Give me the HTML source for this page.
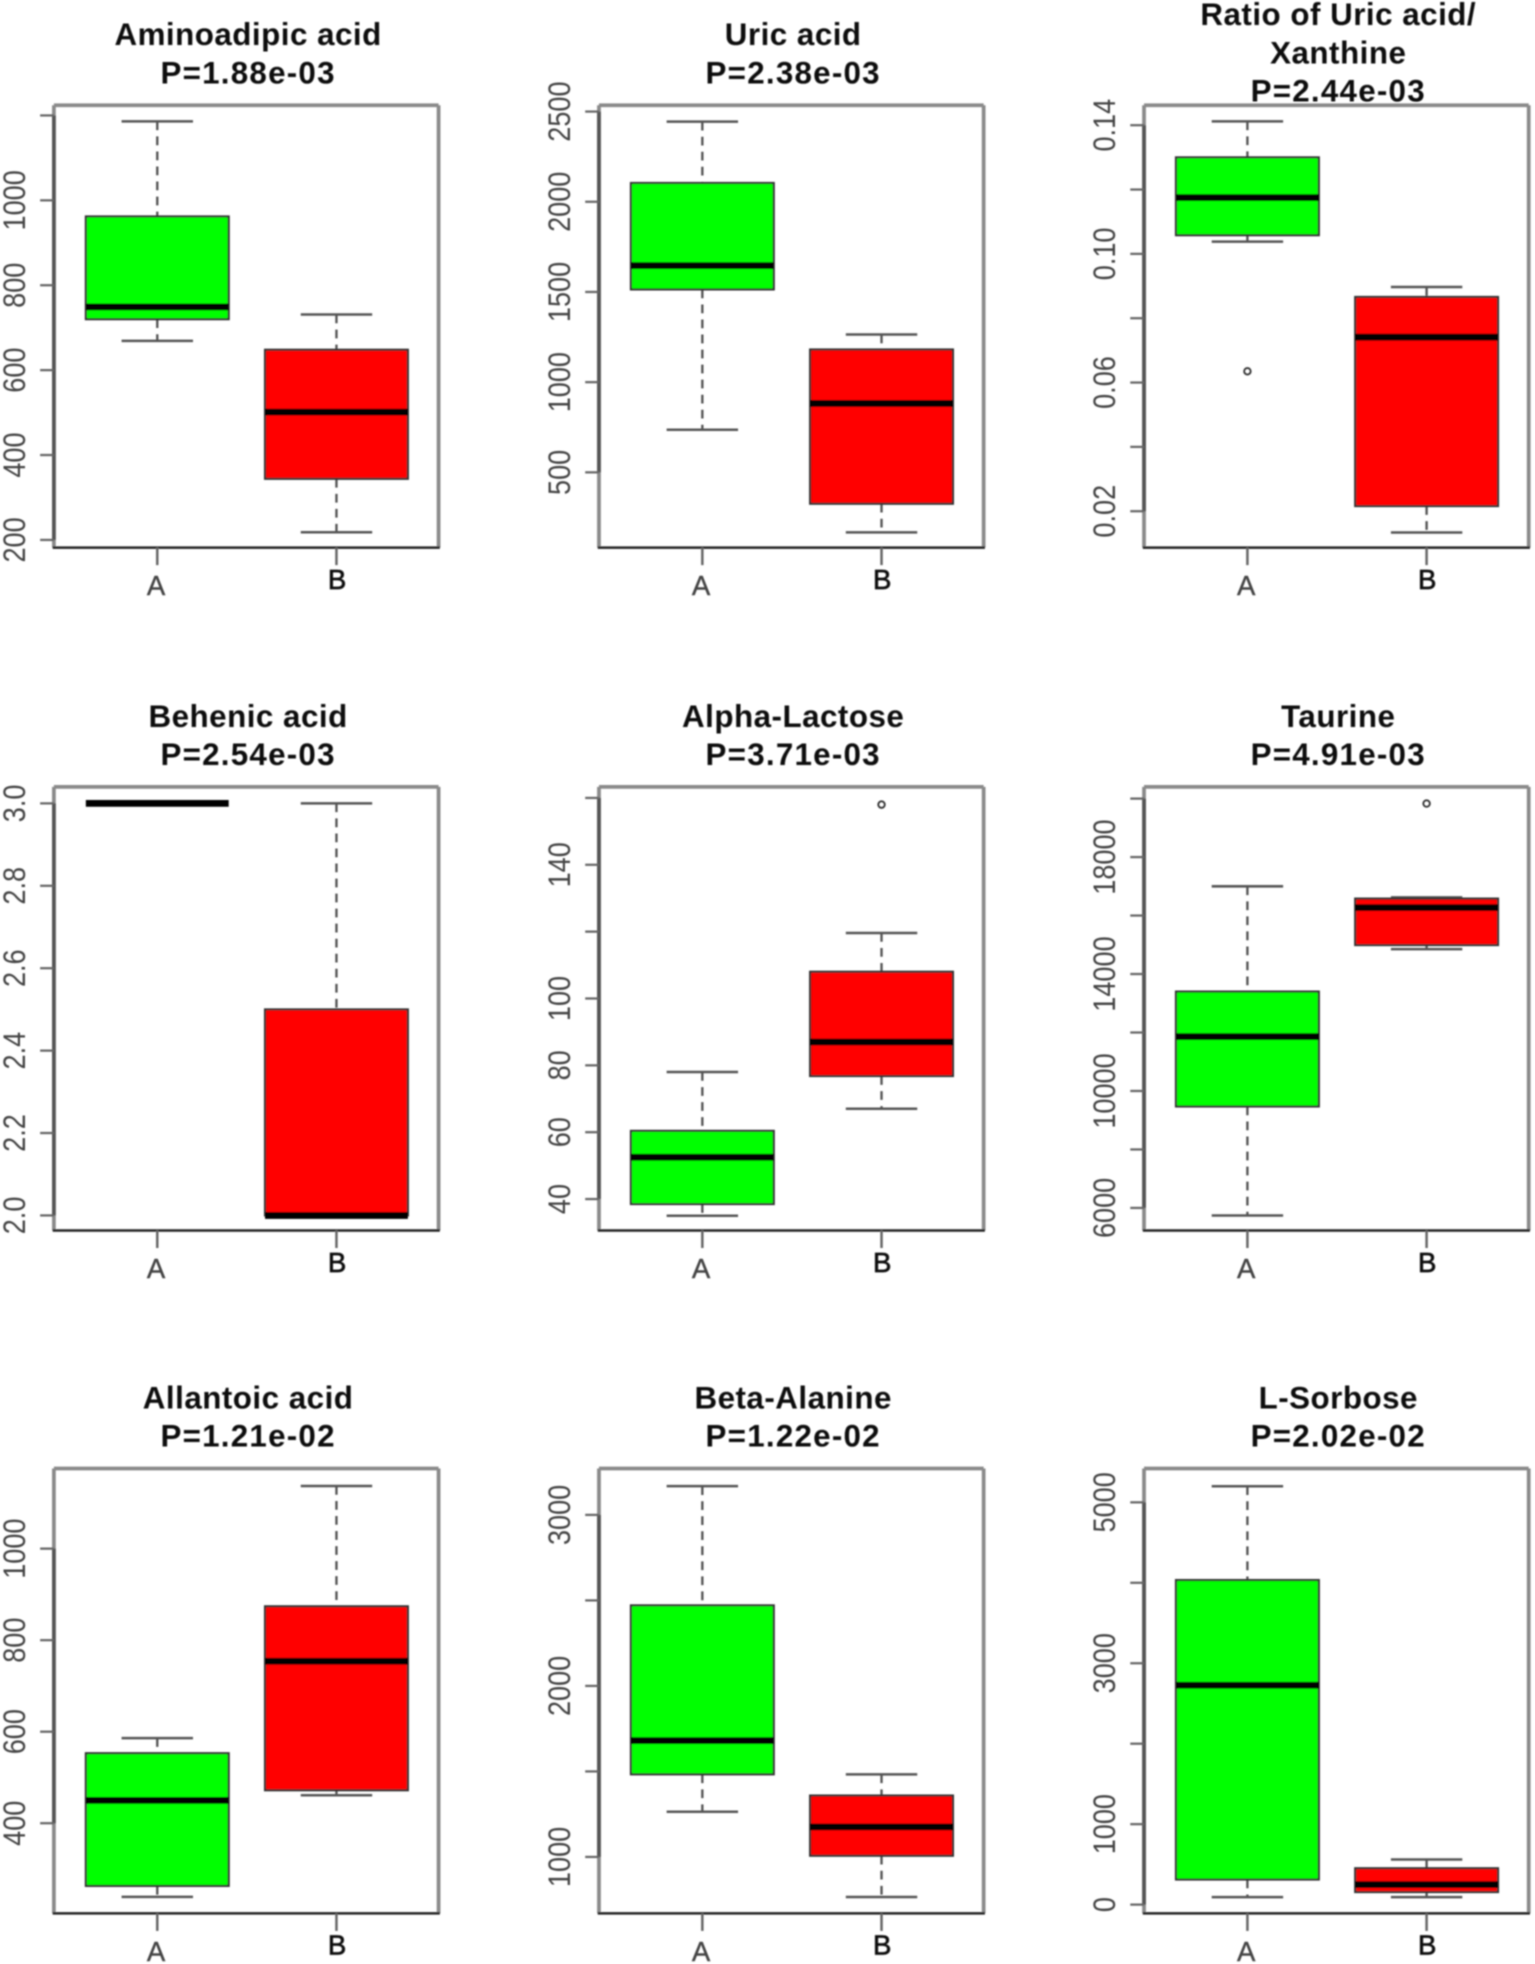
<!DOCTYPE html>
<html lang="en">
<head>
<meta charset="utf-8">
<title>Metabolite boxplots</title>
<style>
html,body{margin:0;padding:0;background:#fff;width:1535px;height:1964px;overflow:hidden}
svg{display:block}
text{font-family:"Liberation Sans",sans-serif}
</style>
</head>
<body>
<svg id="chart" xmlns="http://www.w3.org/2000/svg" width="1535" height="1964" viewBox="0 0 1225 1567.4">
<defs><filter id="soft" x="-5%" y="-5%" width="110%" height="110%"><feGaussianBlur stdDeviation="0.6"/></filter></defs>
<rect x="0" y="0" width="1225" height="1568" fill="#fff"/>
<g id="root" filter="url(#soft)"></g>
</svg>
<script>
const categories = ['A', 'B'];
const titles = [
  ['Aminoadipic acid', 'P=1.88e-03'],
  ['Uric acid', 'P=2.38e-03'],
  ['Ratio of Uric acid/', 'Xanthine', 'P=2.44e-03'],
  ['Behenic acid', 'P=2.54e-03'],
  ['Alpha-Lactose', 'P=3.71e-03'],
  ['Taurine', 'P=4.91e-03'],
  ['Allantoic acid', 'P=1.21e-02'],
  ['Beta-Alanine', 'P=1.22e-02'],
  ['L-Sorbose', 'P=2.02e-02']
];
const yDomains = [
  [182, 1224], [83, 2535], [0.0087, 0.1462],
  [1.9635, 3.04], [30.6, 163.3], [5229, 20400],
  [203, 1175], [670, 3271], [-109, 5420]
];
const yTicks = [
  [200, 400, 600, 800, 1000, 1200],
  [500, 1000, 1500, 2000, 2500],
  [0.02, 0.04, 0.06, 0.08, 0.10, 0.12, 0.14],
  [2.0, 2.2, 2.4, 2.6, 2.8, 3.0],
  [40, 60, 80, 100, 120, 140, 160],
  [6000, 8000, 10000, 12000, 14000, 16000, 18000, 20000],
  [400, 600, 800, 1000],
  [1000, 1500, 2000, 2500, 3000],
  [0, 1000, 2000, 3000, 4000, 5000]
];
const yTickLabels = [
  ['200', '400', '600', '800', '1000', ''],
  ['500', '1000', '1500', '2000', '2500'],
  ['0.02', '', '0.06', '', '0.10', '', '0.14'],
  ['2.0', '2.2', '2.4', '2.6', '2.8', '3.0'],
  ['40', '60', '80', '100', '', '140', ''],
  ['6000', '', '10000', '', '14000', '', '18000', ''],
  ['400', '600', '800', '1000'],
  ['1000', '', '2000', '', '3000'],
  ['0', '1000', '', '3000', '', '5000']
];
const whiskerHigh = [
  [1186, 731], [2444, 1264], [0.1412, 0.0897],
  [3.0, 3.0], [78, 119.6], [17000, 16620],
  [586, 1137], [3168, 1483], [5200, 561]
];
const q3 = [
  [962, 648], [2104, 1181], [0.130, 0.0866],
  [3.0, 2.5], [60.4, 108], [13400, 16580],
  [553, 874], [2471, 1359], [4034, 452]
];
const medians = [
  [749, 501], [1646, 882], [0.1175, 0.0741],
  [3.0, 2.0], [52.5, 87], [11860, 16270],
  [450, 754], [1680, 1176], [2726, 249]
];
const q1 = [
  [720, 344], [1514, 326], [0.1058, 0.0216],
  [3.0, 2.0], [38.5, 76.8], [9470, 14990],
  [263, 472], [1483, 1007], [312, 156]
];
const whiskerLow = [
  [669, 218], [736, 167], [0.1038, 0.0134],
  [3.0, 2.0], [35, 67], [5740, 14850],
  [239, 461], [1264, 766], [93, 93]
];
const outliers = [
  [[], []], [[], []], [[0.0635], []],
  [[], []], [[], [158]], [[], [19830]],
  [[], []], [[], []], [[], []]
];
const fills = ['#00ff00', '#ff0000'];

const NS = 'http://www.w3.org/2000/svg';
const root = document.getElementById('root');
const colLefts = [43, 478, 913];
const rowTops = [84, 628, 1172];
const rowHeights = [353, 354, 355];
const plotWidth = 307;

function make(parent, tag, attrs, text) {
  const el = document.createElementNS(NS, tag);
  for (const k in attrs) el.setAttribute(k, attrs[k]);
  if (text !== undefined) el.textContent = text;
  parent.appendChild(el);
  return el;
}

function yScale(panel, v, top, h) {
  const d = yDomains[panel];
  return top + h - (v - d[0]) / (d[1] - d[0]) * h;
}
function xScale(left, cat) {
  return left + 82.5 + 143 * cat;
}

titles.forEach(function (lines, p) {
  const left = colLefts[p % 3];
  const row = Math.floor(p / 3);
  const top = rowTops[row];
  const h = rowHeights[row];
  const y = function (v) { return yScale(p, v, top, h); };

  const g = make(root, 'g', {});
  
  

  // title
  const cx = left + 155;
  const firstBase = top - 48 - (lines.length - 2) * 16;
  lines.forEach(function (line, i) {
    const isP = i === lines.length - 1;
    const t = make(g, 'text', {x: cx, y: firstBase + i * 30.5, 'text-anchor': 'middle', 'font-size': 25, 'letter-spacing': isP ? 1 : 0.4, 'font-weight': 'bold', fill: '#111'}, line);
    
    
  });

  // frame
  const frameTop = make(g, 'line', {x1: left, x2: left + plotWidth, y1: top, y2: top, stroke: '#8a8a8a', 'stroke-width': 3});
  
  
  const frameRight = make(g, 'line', {x1: left + plotWidth, x2: left + plotWidth, y1: top, y2: top + h, stroke: '#8a8a8a', 'stroke-width': 3});
  
  
  const frameLeft = make(g, 'line', {x1: left, x2: left, y1: top, y2: top + h, stroke: '#8a8a8a', 'stroke-width': 3});
  
  
  const frameBottom = make(g, 'line', {x1: left - 1, x2: left + plotWidth + 1, y1: top + h, y2: top + h, stroke: '#222', 'stroke-width': 2});
  
  

  // y axis
  const ticks = yTicks[p];
  const axisLine = make(g, 'line', {x1: left, x2: left, y1: y(ticks[0]), y2: y(ticks[ticks.length - 1]), stroke: '#555', 'stroke-width': 3});
  
  
  ticks.forEach(function (v, i) {
    const py = y(v);
    const tick = make(g, 'line', {x1: left - 11, x2: left, y1: py, y2: py, stroke: '#666', 'stroke-width': 1.8});
    
    
    const label = yTickLabels[p][i];
    if (label) {
      const lx = left - 23;
      const t = make(g, 'text', {x: 0, y: 0, 'text-anchor': 'middle', 'font-size': 21, fill: '#444', transform: 'translate(' + lx + ' ' + py + ') rotate(-90) scale(1.03 1.2)'}, label);
      
      
    }
  });

  // boxes
  categories.forEach(function (cat, c) {
    const x = xScale(left, c);
    const bg = make(g, 'g', {});
    
    

    const xTick = make(bg, 'line', {x1: x, x2: x, y1: top + h, y2: top + h + 14, stroke: '#666', 'stroke-width': 2});
    
    
    const xLabel = make(bg, 'text', {x: x - (c === 0 ? 1 : -0.5), y: top + h + (c === 0 ? 38 : 33), 'text-anchor': 'middle', 'font-size': 22, fill: c === 0 ? '#444' : '#111', stroke: c === 0 ? '#444' : '#111', 'stroke-width': c === 0 ? 0.3 : 0.5}, cat);
    
    

    const wHi = y(whiskerHigh[p][c]);
    const wLo = y(whiskerLow[p][c]);
    const boxTop = y(q3[p][c]);
    const boxBottom = y(q1[p][c]);
    const wu = make(bg, 'line', {x1: x, x2: x, y1: wHi, y2: boxTop, stroke: '#555', 'stroke-width': 1.9, 'stroke-dasharray': '7 5'});
    
    
    const wl = make(bg, 'line', {x1: x, x2: x, y1: boxBottom, y2: wLo, stroke: '#555', 'stroke-width': 1.9, 'stroke-dasharray': '7 5'});
    
    
    if (boxBottom - boxTop > 0.5) {
      const capHi = make(bg, 'line', {x1: x - 28.5, x2: x + 28.5, y1: wHi, y2: wHi, stroke: '#555', 'stroke-width': 2});
      
      
      const capLo = make(bg, 'line', {x1: x - 28.5, x2: x + 28.5, y1: wLo, y2: wLo, stroke: '#555', 'stroke-width': 2});
      
      
      const rect = make(bg, 'rect', {x: x - 57, y: boxTop, width: 114, height: boxBottom - boxTop, fill: fills[c], stroke: '#333', 'stroke-width': 1.7});
      
      
    }
    const my = y(medians[p][c]);
    const med = make(bg, 'line', {x1: x - 57, x2: x + 57, y1: my, y2: my, stroke: '#000', 'stroke-width': 5.4});
    
    
    outliers[p][c].forEach(function (v) {
      const o = make(bg, 'circle', {cx: x, cy: y(v), r: 2.6, fill: 'none', stroke: '#333', 'stroke-width': 1.5});
      
      
    });
  });
});
</script>
</body>
</html>
